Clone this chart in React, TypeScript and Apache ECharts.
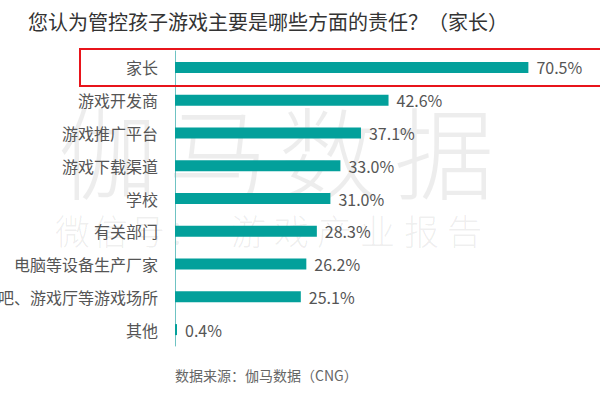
import React, { useEffect, useRef } from "react";
import * as echarts from "echarts";

const categories = ["家长", "游戏开发商", "游戏推广平台", "游戏下载渠道", "学校", "有关部门", "电脑等设备生产厂家", "网吧、游戏厅等游戏场所", "其他"];
const values = [70.5, 42.6, 37.1, 33.0, 31.0, 28.3, 26.2, 25.1, 0.4];
const title = "您认为管控孩子游戏主要是哪些方面的责任？（家长）";
const source = "数据来源：伽马数据（CNG）";
const watermarkBig = ["伽", "马", "数", "据"];
const watermarkSmall = ["微", "信", "号", "：", "游", "戏", "产", "业", "报", "告"];

const FONT = "'Noto Sans CJK SC', 'Noto Sans', sans-serif";
const bigX = [58, 168, 278, 394];
const smallX = [55, 93, 130, 168, 231, 274, 317, 360, 404, 447];

export default function App() {
  const ref = useRef<HTMLDivElement>(null);
  useEffect(() => {
    const chart = echarts.init(ref.current!, null, { renderer: "svg" });
    const graphics: any[] = [];
    watermarkBig.forEach((ch, i) => {
      graphics.push({
        type: "text", x: bigX[i], y: 98, z: 0, silent: true,
        style: { text: ch, font: `300 100px ${FONT}`, fill: "rgba(0,0,0,0.07)" },
      });
    });
    watermarkSmall.forEach((ch, i) => {
      graphics.push({
        type: "text", x: smallX[i], y: 212, z: 0, silent: true,
        style: { text: ch, font: `300 35px ${FONT}`, fill: "rgba(0,0,0,0.07)" },
      });
    });
    graphics.push(
      { type: "text", left: 28, top: 11, style: { text: title, font: `20px ${FONT}`, fill: "#333" } },
      { type: "text", left: 175, top: 368, style: { text: source, font: `14px ${FONT}`, fill: "#666" } },
      { type: "rect", shape: { x: 80, y: 49, width: 530, height: 37 }, z: 10, style: { fill: "none", stroke: "#e8141b", lineWidth: 2 } }
    );
    chart.setOption({
      animation: false,
      grid: { left: 175, right: 24, top: 51, bottom: 54, outerBoundsMode: "none", containLabel: false },
      xAxis: { type: "value", min: 0, max: 80, show: false },
      yAxis: {
        type: "category", data: categories, inverse: true,
        axisLine: { show: true, lineStyle: { color: "#6fc3c3", width: 1 } },
        axisTick: { show: false },
        axisLabel: { fontSize: 16, color: "#555", margin: 17, fontFamily: FONT },
      },
      graphic: graphics,
      series: [{
        type: "bar", data: values, barWidth: 11, z: 5,
        itemStyle: { color: "#03a09b" },
        label: {
          show: true, position: "right", distance: 8, fontSize: 16, color: "#555", fontFamily: FONT,
          formatter: (p: any) => Number(p.value).toFixed(1) + "%",
        },
      }],
    });
    return () => chart.dispose();
  }, []);
  return <div ref={ref} style={{ width: 600, height: 400, position: "absolute", left: 0, top: 0, background: "#fff" }} />;
}
